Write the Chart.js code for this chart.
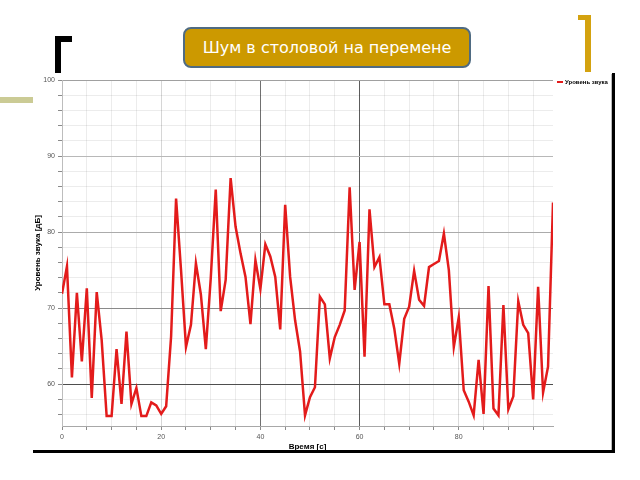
<!DOCTYPE html>
<html>
<head>
<meta charset="utf-8">
<script src="https://cdn.jsdelivr.net/npm/chart.js@4.4.1/dist/chart.umd.min.js"></script>
<style>
    body { margin: 0; background: #fff; }
    #slide { position: relative; width: 640px; height: 480px; overflow: hidden; background: #fff; }
    #noiseChart { position: absolute; left: 0; top: 0; }
    .deco { position: absolute; }
    #titleBox {
        position: absolute; left: 183px; top: 27px; width: 284px; height: 37px;
        background: #cc9900; border: 2px solid #4f6b82; border-radius: 8px;
        color: #fff; font: 16px 'DejaVu Sans', sans-serif;
        display: flex; align-items: center; justify-content: center;
    }
    #legend {
        position: absolute; left: 557px; top: 79px;
        font: bold 6px 'Liberation Sans', sans-serif; color: #000; white-space: nowrap;
    }
    #legend span.mark { display: inline-block; width: 6px; height: 2px; background: #e31b1b; vertical-align: middle; margin-right: 2px; }
</style>
</head>
<body>
<div id="slide">
    <!-- декор слайда -->
    <div class="deco" style="left:0;top:97px;width:33px;height:6px;background:#cbcb95"></div>
    <div class="deco" style="left:55px;top:36px;width:6px;height:37px;background:#000"></div>
    <div class="deco" style="left:55px;top:36px;width:17px;height:6px;background:#000"></div>
    <div class="deco" style="left:585px;top:15px;width:6px;height:57px;background:#d4a20f"></div>
    <div class="deco" style="left:578px;top:15px;width:13px;height:5px;background:#d4a20f"></div>

    <canvas id="noiseChart" width="640" height="480"></canvas>

    <div class="deco" style="left:611px;top:74px;width:1px;height:377px;background:#bbb"></div>
    <div class="deco" style="left:612px;top:73px;width:3px;height:380px;background:#000"></div>
    <div class="deco" style="left:33px;top:450px;width:582px;height:3px;background:#000"></div>

    <div id="titleBox">Шум в столовой на перемене</div>
    <div id="legend"><span class="mark"></span>Уровень звука</div>
</div>

<script>
// время, с
const seconds = [
    0, 1, 2, 3, 4, 5, 6, 7, 8, 9,
    10, 11, 12, 13, 14, 15, 16, 17, 18, 19,
    20, 21, 22, 23, 24, 25, 26, 27, 28, 29,
    30, 31, 32, 33, 34, 35, 36, 37, 38, 39,
    40, 41, 42, 43, 44, 45, 46, 47, 48, 49,
    50, 51, 52, 53, 54, 55, 56, 57, 58, 59,
    60, 61, 62, 63, 64, 65, 66, 67, 68, 69,
    70, 71, 72, 73, 74, 75, 76, 77, 78, 79,
    80, 81, 82, 83, 84, 85, 86, 87, 88, 89,
    90, 91, 92, 93, 94, 95, 96, 97, 98, 99
]

// уровень звука, дБ
const soundLevel = [
    71.9, 75.5, 60.9, 72.0, 63.0, 72.6, 58.2, 72.1, 65.8, 55.8,
    55.8, 64.6, 57.4, 66.9, 57.4, 59.5, 55.8, 55.8, 57.6, 57.2,
    56.1, 57.1, 66.3, 84.4, 75.0, 64.9, 67.8, 75.9, 71.8, 64.6,
    74.0, 85.6, 69.6, 73.7, 87.1, 80.7, 77.2, 74.1, 67.9, 76.3,
    72.5, 78.4, 76.8, 74.1, 67.2, 83.6, 74.1, 68.4, 64.3, 55.9,
    58.3, 59.6, 71.5, 70.5, 63.4, 66.2, 67.8, 69.7, 85.9, 72.4,
    78.7, 63.6, 83.0, 75.4, 76.7, 70.5, 70.5, 67.3, 62.7, 68.6,
    70.2, 74.9, 71.1, 70.3, 75.4, 75.8, 76.2, 79.8, 75.0, 64.9,
    68.8, 59.2, 57.7, 55.9, 63.2, 56.1, 72.9, 56.8, 55.9, 70.4,
    56.7, 58.4, 70.9, 67.8, 66.7, 58.0, 72.8, 58.9, 62.3, 83.9
]

const seriesName = 'Уровень звука'
const xTitle = 'Время [c]'
const yTitle = 'Уровень звука [дБ]'

// подписи только на каждом 20-м / 10-м делении
const xLabelEvery = 20
const yLabelEvery = 10

// цвет сетки (тёмные линии как на картинке)
const minorGrid = 'rgba(0, 0, 0, 0.075)'
const xDarkLines = { 40: '#707070', 60: '#5c5c5c', 20: '#d6d6d6', 80: '#dadada' }
const yDarkLines = { 100: '#a0a0a0', 90: '#b8b8b8', 80: '#ababab', 70: '#8a8a8a', 60: '#4e4e4e' }

const points = seconds.map((t, i) => ({ x: t, y: soundLevel[i] }))

var noiseChart = new Chart(
    document.getElementById('noiseChart'),
    {
        type: 'line',
        data: {
            datasets: [{
                label: seriesName,
                data: points,
                borderColor: '#e31b1b',
                borderWidth: 2.5,
                pointRadius: 0,
                tension: 0
            }]
        },
        options: {
            responsive: false,
            animation: false,
            layout: {
                padding: { left: 30, top: 80, right: 87, bottom: 28 }
            },
            scales: {
                x: {
                    type: 'linear',
                    min: 0,
                    max: 99,
                    afterFit: function (scale) { scale.height = 26 },
                    border: { color: '#a8a8a8' },
                    grid: {
                        tickLength: 4,
                        tickColor: '#8a8a8a',
                        color: function (ctx) {
                            if (ctx.type !== 'tick') return minorGrid
                            return xDarkLines[ctx.tick.value] || minorGrid
                        }
                    },
                    ticks: {
                        stepSize: 5,
                        includeBounds: false,
                        maxRotation: 0,
                        autoSkip: false,
                        padding: 3,
                        color: '#555',
                        font: { family: 'Liberation Sans', size: 7 },
                        callback: function (value) {
                            return value % xLabelEvery === 0 ? value : ''
                        }
                    },
                    title: {
                        display: true,
                        text: xTitle,
                        color: '#000',
                        padding: 0,
                        font: { family: 'Liberation Sans', size: 8, weight: 'bold' }
                    }
                },
                y: {
                    min: 54.5,
                    max: 100,
                    afterFit: function (scale) { scale.width = 32 },
                    border: { color: '#bdbdbd' },
                    grid: {
                        tickLength: 4,
                        tickColor: '#8a8a8a',
                        color: function (ctx) {
                            if (ctx.type !== 'tick') return minorGrid
                            return yDarkLines[ctx.tick.value] || minorGrid
                        }
                    },
                    ticks: {
                        stepSize: 2,
                        includeBounds: false,
                        autoSkip: false,
                        padding: 3,
                        color: '#555',
                        font: { family: 'Liberation Sans', size: 7 },
                        callback: function (value) {
                            return value % yLabelEvery === 0 ? value : ''
                        }
                    },
                    title: {
                        display: true,
                        text: yTitle,
                        color: '#000',
                        padding: { top: 3, bottom: 0 },
                        font: { family: 'Liberation Sans', size: 8, weight: 'bold' }
                    }
                }
            },
            plugins: {
                legend: { display: false },
                tooltip: { enabled: false }
            }
        }
    }
);
</script>
</body>
</html>
